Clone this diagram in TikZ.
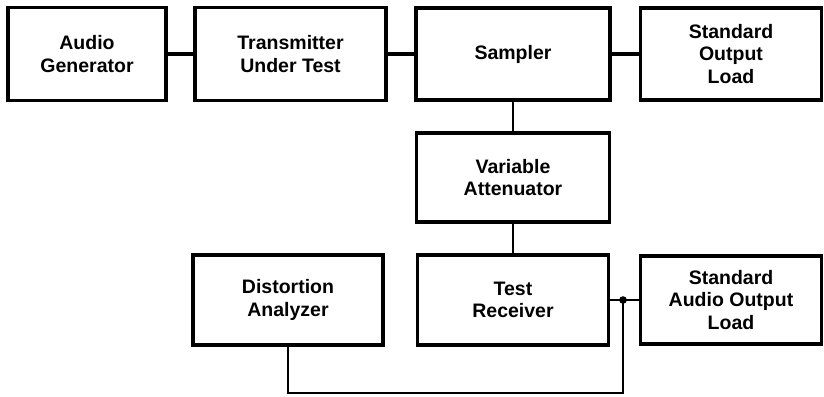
\documentclass[tikz,border=0pt]{standalone}
\usepackage{fontspec}
\setmainfont{Liberation Sans}
\begin{document}
\begin{tikzpicture}[x=1pt,y=-1pt,
  blk/.style={draw, line width=3.2pt, align=center, inner sep=0pt,
    font=\bfseries\fontsize{19.5}{22.5}\selectfont},
  thick wire/.style={line width=3.2pt},
  thin wire/.style={line width=2.2pt}]
\useasboundingbox (0,0) rectangle (824,396);
\node[blk, minimum width=158pt, minimum height=93pt] (ag) at (87,54) {Audio\\Generator};
\node[blk, minimum width=191pt, minimum height=93pt] (tx) at (290.5,54) {Transmitter\\Under Test};
\node[blk, minimum width=194pt, minimum height=92pt] (sam) at (513,54) {Sampler};
\node[blk, minimum width=181pt, minimum height=92pt] (sol) at (731,54) {Standard\\Output\\Load};
\node[blk, minimum width=193pt, minimum height=89pt] (va) at (513,177.5) {Variable\\Attenuator};
\node[blk, minimum width=191pt, minimum height=90pt] (tr) at (513,300) {Test\\Receiver};
\node[blk, minimum width=190pt, minimum height=90pt] (da) at (288,300) {Distortion\\Analyzer};
\node[blk, minimum width=181pt, minimum height=88pt] (saol) at (731,300) {Standard\\Audio Output\\Load};
\draw[thick wire] (ag.east) -- (tx.west);
\draw[thick wire] (tx.east) -- (sam.west);
\draw[thick wire] (sam.east) -- (sol.west);
\draw[thin wire] (sam.south) -- (va.north);
\draw[thin wire] (va.south) -- (tr.north);
\draw[thin wire] (tr.east) -- (saol.west);
\coordinate (j) at (623,300);
\coordinate (b) at (623,393);
\draw[thin wire] (j) -- (b) -| (da.south);
\fill (j) circle (3.8pt);
\end{tikzpicture}
\end{document}
